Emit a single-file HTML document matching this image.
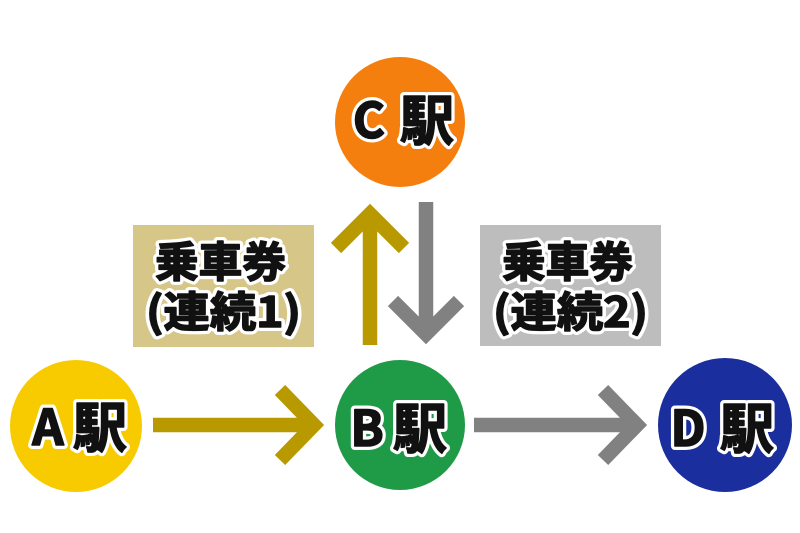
<!DOCTYPE html>
<html><head><meta charset="utf-8"><style>
html,body{margin:0;padding:0;background:#fff;}
svg{display:block;}
text{font-family:"Noto Sans CJK JP","Liberation Sans",sans-serif;font-weight:bold;}
.o text{fill:#fff;stroke:#fff;stroke-width:8;stroke-linejoin:round;}
.f text{fill:#111;stroke:#111;stroke-width:1.6;stroke-linejoin:round;}
</style></head><body>
<svg width="800" height="533" viewBox="0 0 800 533" xmlns="http://www.w3.org/2000/svg">
<defs>
<g id="labels">
<text x="369" y="138" font-size="49" text-anchor="middle">C</text>
<text x="427" y="140" font-size="54" text-anchor="middle">駅</text>
<text x="48" y="445" font-size="49" text-anchor="middle">A</text>
<text x="100" y="447" font-size="54" text-anchor="middle">駅</text>
<text x="367" y="446" font-size="49" text-anchor="middle">B</text>
<text x="420" y="448" font-size="54" text-anchor="middle">駅</text>
<text x="688" y="446" font-size="49" text-anchor="middle">D</text>
<text x="747" y="448" font-size="54" text-anchor="middle">駅</text>
<text x="155" y="277" font-size="42" textLength="131" lengthAdjust="spacingAndGlyphs">乗車券</text>
<text x="146" y="327" font-size="42" textLength="155" lengthAdjust="spacingAndGlyphs">(連続1)</text>
<text x="502" y="277" font-size="42" textLength="131" lengthAdjust="spacingAndGlyphs">乗車券</text>
<text x="493" y="327" font-size="42" textLength="155" lengthAdjust="spacingAndGlyphs">(連続2)</text>
</g>
</defs>
<rect width="800" height="533" fill="#fff"/>
<!-- boxes -->
<rect x="133" y="225" width="181" height="122" fill="#d6c789"/>
<rect x="480" y="225" width="181" height="121" fill="#bdbdbd"/>
<!-- arrows -->
<g fill="none" stroke-width="14.5" stroke-linejoin="miter" stroke-linecap="butt">
  <g stroke="#b89900">
    <line x1="153" y1="425" x2="312" y2="425"/>
    <polyline points="280,390 314,425 280,460"/>
    <line x1="370" y1="345" x2="370" y2="216"/>
    <polyline points="336,248 370,214 404,248"/>
  </g>
  <g stroke="#818181">
    <line x1="426" y1="202" x2="426" y2="332"/>
    <polyline points="393,301 426,334 459,301"/>
    <line x1="474" y1="425" x2="635" y2="425"/>
    <polyline points="603,390 637,425 603,460"/>
  </g>
</g>
<!-- circles -->
<circle cx="400" cy="122" r="65" fill="#f57f0e"/>
<circle cx="76" cy="426" r="66" fill="#f8cb00"/>
<circle cx="400" cy="425" r="65" fill="#1f9a47"/>
<circle cx="725" cy="425" r="67" fill="#1a2f9d"/>
<!-- labels: white outline layer then heavy black fill -->
<g class="o">
<text x="369" y="138" font-size="49" text-anchor="middle">C</text>
<text x="427" y="140" font-size="54" text-anchor="middle">駅</text>
<text x="48" y="445" font-size="49" text-anchor="middle">A</text>
<text x="100" y="447" font-size="54" text-anchor="middle">駅</text>
<text x="367" y="446" font-size="49" text-anchor="middle">B</text>
<text x="420" y="448" font-size="54" text-anchor="middle">駅</text>
<text x="688" y="446" font-size="49" text-anchor="middle">D</text>
<text x="747" y="448" font-size="54" text-anchor="middle">駅</text>
<text x="155" y="277" font-size="42" textLength="131" lengthAdjust="spacingAndGlyphs">乗車券</text>
<text x="146" y="327" font-size="42" textLength="155" lengthAdjust="spacingAndGlyphs">(連続1)</text>
<text x="502" y="277" font-size="42" textLength="131" lengthAdjust="spacingAndGlyphs">乗車券</text>
<text x="493" y="327" font-size="42" textLength="155" lengthAdjust="spacingAndGlyphs">(連続2)</text>
</g>
<g class="f">
<text x="369" y="138" font-size="49" text-anchor="middle">C</text>
<text x="427" y="140" font-size="54" text-anchor="middle">駅</text>
<text x="48" y="445" font-size="49" text-anchor="middle">A</text>
<text x="100" y="447" font-size="54" text-anchor="middle">駅</text>
<text x="367" y="446" font-size="49" text-anchor="middle">B</text>
<text x="420" y="448" font-size="54" text-anchor="middle">駅</text>
<text x="688" y="446" font-size="49" text-anchor="middle">D</text>
<text x="747" y="448" font-size="54" text-anchor="middle">駅</text>
<text x="155" y="277" font-size="42" textLength="131" lengthAdjust="spacingAndGlyphs">乗車券</text>
<text x="146" y="327" font-size="42" textLength="155" lengthAdjust="spacingAndGlyphs">(連続1)</text>
<text x="502" y="277" font-size="42" textLength="131" lengthAdjust="spacingAndGlyphs">乗車券</text>
<text x="493" y="327" font-size="42" textLength="155" lengthAdjust="spacingAndGlyphs">(連続2)</text>
</g>
</svg>
</body></html>
